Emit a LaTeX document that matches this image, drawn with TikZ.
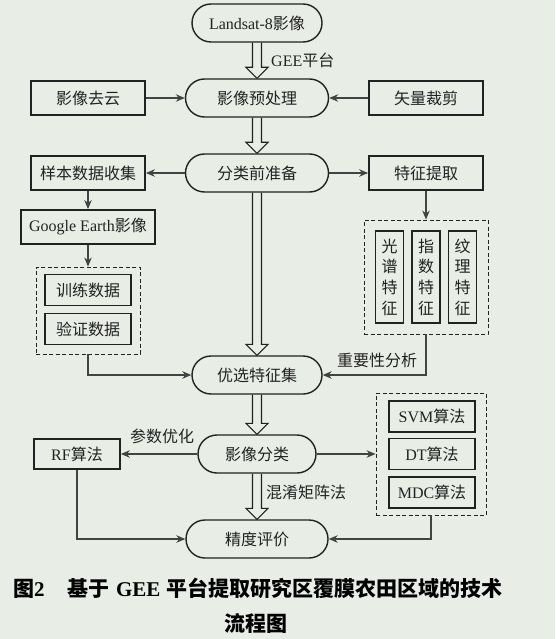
\documentclass[tikz,border=0pt]{standalone}
\usepackage{fontspec}
\setmainfont{Noto Sans CJK SC}
\newfontfamily\en{Liberation Serif}
\usetikzlibrary{arrows.meta,calc,backgrounds}
\definecolor{bg}{RGB}{232,237,230}
\definecolor{ink}{RGB}{34,34,34}

\tikzset{
  base/.style={draw=ink, fill=bg, text=ink, inner sep=0pt,
    font=\fontsize{16}{19}\selectfont},
  stadium/.style={base, line width=1.4pt, rounded corners=19pt,
    minimum height=38, minimum width=#1},
  box/.style={base, line width=1.8pt, minimum height=34, minimum width=#1},
  smallbox/.style={base, line width=1.8pt, minimum height=31, minimum width=86},
  vbox/.style={base, line width=1.8pt, minimum height=92, minimum width=28,
    align=center, font=\fontsize{16}{20.7}\selectfont},
  group/.style={draw=ink, line width=0.9pt, dash pattern=on 4pt off 2.5pt,
    inner sep=0pt, minimum width=#1},
  conn/.style={draw=ink!85, line width=1.1pt, -{Stealth[length=9pt,width=7.5pt]}},
  tag/.style={text=ink, inner sep=0pt, font=\fontsize{16}{19}\selectfont},
  fat/.style={draw=ink, fill=bg, line width=1.1pt, line join=miter},
  caption/.style={text=black, inner sep=0pt, font=\fontsize{21}{25}\selectfont\bfseries}
}

% hollow block arrow between two vertically aligned nodes
\newcommand{\fatarrow}[2]{%
  \draw[fat] let \p1=(#1.south), \p2=(#2.north) in
    (\x1-4.5pt,\y1) -- (\x1-4.5pt,\y2+11pt) -- (\x1-11pt,\y2+11pt) --
    (\x1,\y2) -- (\x1+11pt,\y2+11pt) -- (\x1+4.5pt,\y2+11pt) -- (\x1+4.5pt,\y1);}

\begin{document}
\begin{tikzpicture}[x=1pt,y=-1pt]
\useasboundingbox (0,0) rectangle (555,639);

% main column
\node[stadium=130] (src)  at (257,23)  {{\en Landsat-8}影像};
\node[stadium=143] (pre)  at (257,98)  {影像预处理};
\node[stadium=143] (prep) at (257,173) {分类前准备};
\node[stadium=130] (opt)  at (257,375) {优选特征集};
\node[stadium=118] (cls)  at (257,454) {影像分类};
\node[stadium=142] (acc)  at (257,539) {精度评价};

% preprocessing inputs
\node[box=114] (cloud) at (88,98)  {影像去云};
\node[box=114] (clip)  at (426,98) {矢量裁剪};

% samples
\node[box=114] (samp)  at (88,173) {样本数据收集};
\node[box=134] (ge)    at (88,227) {{\en Google Earth}影像};
\node[group=104, minimum height=87] (sgrp) at (88,310.5) {};
\node[smallbox] (train) at (88,290) {训练数据};
\node[smallbox] (valid) at (88,329) {验证数据};

% features
\node[box=114] (feat)  at (426,173) {特征提取};
\node[group=124, minimum height=114] (fgrp) at (426,277) {};
\node[vbox] (spec) at (389.5,277) {光\\谱\\特\\征};
\node[vbox] (idx)  at (426,277)   {指\\数\\特\\征};
\node[vbox] (tex)  at (462.5,277) {纹\\理\\特\\征};

% classifiers
\node[box=86, minimum height=30] (rf) at (77,454) {{\en RF}算法};
\node[group=110, minimum height=122] (agrp) at (431,454) {};
\node[smallbox] (svm) at (432,416.5) {{\en SVM}算法};
\node[smallbox] (dt)  at (432,454)   {{\en DT}算法};
\node[smallbox] (mdc) at (432,492.5) {{\en MDC}算法};

% connectors
\draw[conn] (cloud) -- (pre);
\draw[conn] (clip) -- (pre);
\draw[conn] (prep) -- (samp);
\draw[conn] (prep) -- (feat);
\draw[conn] (samp) -- (ge);
\draw[conn] (ge) -- (sgrp);
\draw[conn] (feat) -- (fgrp);
\draw[conn] (sgrp.south) |- (opt.west);
\draw[conn] (fgrp.south) |- (opt.east);
\draw[conn] (cls) -- (rf);
\draw[conn] (cls) -- (agrp);
\draw[conn] (rf.south) |- (acc.west);
\draw[conn] (agrp.south) |- (acc.east);

% connector labels
\node[tag, anchor=west] (lgee) at (271,60)  {{\en GEE}平台};
\node[tag] (limp) at (377,360) {重要性分析};
\node[tag] (lpar) at (162,436) {参数优化};
\node[tag, anchor=west] (lmat) at (266,492) {混淆矩阵法};

% caption
\node[caption, anchor=west] (cap1) at (13,588)
  {图{\en 2}\hspace{1.1em}基于\hspace{0.3em}{\en GEE}\hspace{0.3em}平台提取研究区覆膜农田区域的技术};
\node[caption] (cap2) at (256,623) {流程图};

\begin{pgfonlayer}{background}
  \fill[bg] (0,0) rectangle (555,639);
  \fatarrow{src}{pre}
  \fatarrow{pre}{prep}
  \fatarrow{prep}{opt}
  \fatarrow{opt}{cls}
  \fatarrow{cls}{acc}
\end{pgfonlayer}
\end{tikzpicture}
\end{document}
